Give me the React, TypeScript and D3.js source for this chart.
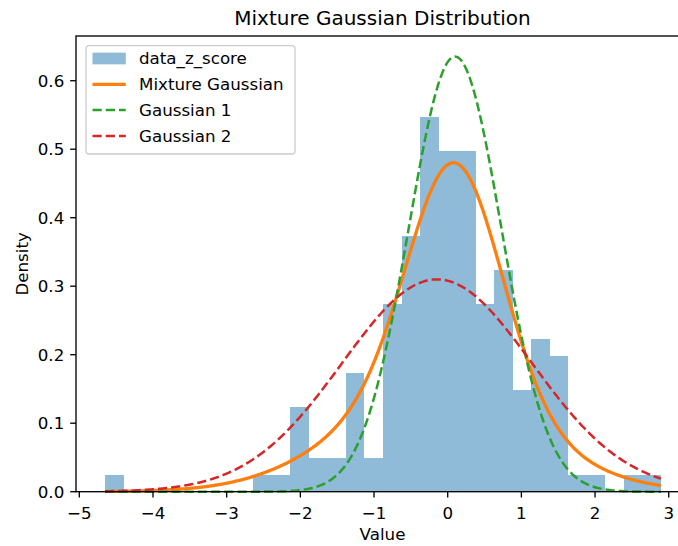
import React from "react";
import * as d3 from "d3";

// ---- data ----
const binCounts = [1, 0, 0, 0, 0, 0, 0, 0, 1, 1, 5, 2, 2, 7, 2, 11, 15, 22, 20, 20, 11, 13, 6, 9, 8, 1, 1, 0, 1, 1];
const histMin = -4.651;
const histMax = 2.894;
const componentMeans = [0.1, -0.145];
const componentStds = [0.628, 1.287];
const componentWeights = [0.531, 0.469];
const xTicks = [-5, -4, -3, -2, -1, 0, 1, 2, 3];
const yTicks = [0, 0.1, 0.2, 0.3, 0.4, 0.5, 0.6];
const legendLabels = ["data_z_score", "Mixture Gaussian", "Gaussian 1", "Gaussian 2"];

const W = 678;
const H = 546;
const FONT = "DejaVu Sans";
const BLUE = "#1f77b4";
const ORANGE = "#ff7f0e";
const GREEN = "#2ca02c";
const RED = "#d62728";

const left = 76, right = 689, top = 36, bottom = 491.7;

function normPdf(x: number, m: number, s: number) {
  return Math.exp(-((x - m) ** 2) / (2 * s * s)) / (s * Math.sqrt(2 * Math.PI));
}

export default function App() {
  const x = d3.scaleLinear().domain([-5.045, 3.275]).range([left, right]);
  const y = d3.scaleLinear().domain([0, 0.6653]).range([bottom, top]);

  const nBins = binCounts.length;
  const binW = (histMax - histMin) / nBins;
  const total = d3.sum(binCounts);
  const bins = binCounts.map((c, i) => ({
    x0: histMin + i * binW,
    x1: histMin + (i + 1) * binW,
    d: c / (total * binW),
  }));

  const grid = d3.range(0, 600).map((i) => histMin + ((histMax - histMin) * i) / 599);
  const g1 = grid.map((v) => [v, normPdf(v, componentMeans[0], componentStds[0])] as [number, number]);
  const g2 = grid.map((v) => [v, normPdf(v, componentMeans[1], componentStds[1])] as [number, number]);
  const mix = grid.map((v, i) => [v, componentWeights[0] * g1[i][1] + componentWeights[1] * g2[i][1]] as [number, number]);

  const line = d3.line<[number, number]>().x((d) => x(d[0])).y((d) => y(d[1]));

  const dash = "9.25,4";
  const legX = 86, legY = 45.7, legW = 209, legH = 108.3;
  const rowY = (i: number) => 58.5 + i * 25.8;

  return (
    <svg width={W} height={H} style={{ position: "absolute", left: 0, top: 0, background: "#fff" }} fontFamily={FONT}>
      <rect x={0} y={0} width={W} height={H} fill="#fff" />
      {/* histogram */}
      <g shapeRendering="crispEdges">
        {bins.filter((b) => b.d > 0).map((b, i) => (
          <rect key={i} x={x(b.x0)} y={y(b.d)} width={x(b.x1) - x(b.x0)} height={y(0) - y(b.d)} fill={BLUE} fillOpacity={0.5} />
        ))}
      </g>
      {/* curves */}
      <path d={line(mix) || ""} fill="none" stroke={ORANGE} strokeWidth={3.3} />
      <path d={line(g1) || ""} fill="none" stroke={GREEN} strokeWidth={2.5} strokeDasharray={dash} />
      <path d={line(g2) || ""} fill="none" stroke={RED} strokeWidth={2.5} strokeDasharray={dash} />

      {/* spines */}
      <rect x={left} y={top} width={right - left} height={bottom - top} fill="none" stroke="#000" strokeWidth={1.33} />

      {/* x ticks */}
      {xTicks.map((t) => (
        <g key={t}>
          <line x1={x(t)} x2={x(t)} y1={bottom} y2={bottom + 5.8} stroke="#000" strokeWidth={1.33} />
          <text x={x(t)} y={519} fontSize={16.7} textAnchor="middle" fill="#000">
            {t < 0 ? "\u2212" + Math.abs(t) : String(t)}
          </text>
        </g>
      ))}
      {/* y ticks */}
      {yTicks.map((t) => (
        <g key={t}>
          <line x1={left - 5.8} x2={left} y1={y(t)} y2={y(t)} stroke="#000" strokeWidth={1.33} />
          <text x={64.3} y={y(t) + 6.1} fontSize={16.7} textAnchor="end" fill="#000">
            {t.toFixed(1)}
          </text>
        </g>
      ))}

      {/* labels */}
      <text x={(left + right) / 2} y={25} fontSize={20} textAnchor="middle" fill="#000">
        Mixture Gaussian Distribution
      </text>
      <text x={(left + right) / 2} y={540} fontSize={16.7} textAnchor="middle" fill="#000">
        Value
      </text>
      <text transform={`translate(28,${(top + bottom) / 2}) rotate(-90)`} fontSize={16.7} textAnchor="middle" fill="#000">
        Density
      </text>

      {/* legend */}
      <rect x={legX} y={legY} width={legW} height={legH} rx={3.3} ry={3.3} fill="#fff" fillOpacity={0.8} stroke="#cccccc" strokeWidth={1.33} />
      <rect x={92.5} y={rowY(0) - 5.85} width={33.3} height={11.7} fill={BLUE} fillOpacity={0.5} />
      <line x1={92.5} x2={125.8} y1={rowY(1)} y2={rowY(1)} stroke={ORANGE} strokeWidth={3.3} />
      <line x1={92.5} x2={125.8} y1={rowY(2)} y2={rowY(2)} stroke={GREEN} strokeWidth={2.5} strokeDasharray={dash} />
      <line x1={92.5} x2={125.8} y1={rowY(3)} y2={rowY(3)} stroke={RED} strokeWidth={2.5} strokeDasharray={dash} />
      {legendLabels.map((l, i) => (
        <text key={l} x={139} y={rowY(i) + 5.8} fontSize={16.7} fill="#000">
          {l}
        </text>
      ))}
    </svg>
  );
}
